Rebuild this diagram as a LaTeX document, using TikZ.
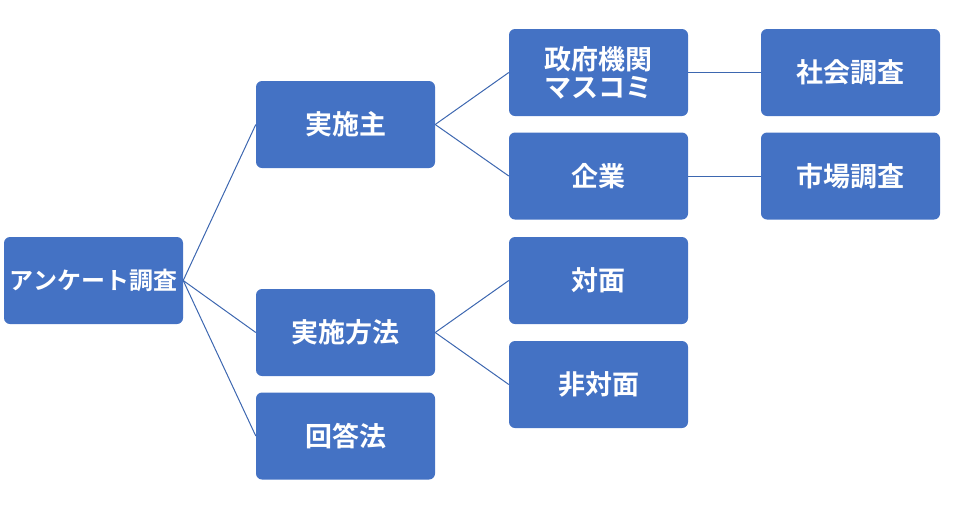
\documentclass[tikz,border=0pt]{standalone}
\usepackage{fontspec}
\setmainfont{Noto Sans CJK JP}[BoldFont={Noto Sans CJK JP Bold}]
\usepackage{xcolor}
\definecolor{boxblue}{HTML}{4472C4}
\usepackage{tikz}
\usetikzlibrary{positioning}
\tikzset{
  itembox/.style={draw=none, rounded corners=6pt, fill=boxblue,
    minimum width=179pt, minimum height=87pt, inner sep=2pt,
    align=center, text=white, font=\fontsize{27}{30}\selectfont\bfseries},
  link/.style={draw=boxblue!90!black, line width=1pt},
}

\begin{document}
\begin{tikzpicture}[x=1pt, y=-1pt]
  \useasboundingbox (0,0) rectangle (954,504);

  % Root
  \node[itembox, font=\fontsize{24}{27}\selectfont\bfseries] (survey) at (93.5,280.5) {アンケート調査};

  % Second level
  \node[itembox] (actor) at (345.5,124.5) {実施主};
  \node[itembox] (method) at (345.5,332.5) {実施方法};
  \node[itembox] (answer) at (345.5,436) {回答法};

  % Third level
  \node[itembox, font=\fontsize{27}{28}\selectfont\bfseries] (gov) at (598.5,72.5) {政府機関\\マスコミ};
  \node[itembox] (corp) at (598.5,176) {企業};
  \node[itembox] (face) at (598.5,280.5) {対面};
  \node[itembox] (noface) at (598.5,384.5) {非対面};

  % Fourth level
  \node[itembox] (social) at (850.5,72.5) {社会調査};
  \node[itembox] (market) at (850.5,176) {市場調査};

  % Links
  \foreach \a/\b in {survey/actor, survey/method, survey/answer,
                     actor/gov, actor/corp, method/face, method/noface,
                     gov/social, corp/market}
    \draw[link] (\a.east) -- (\b.west);
\end{tikzpicture}
\end{document}
